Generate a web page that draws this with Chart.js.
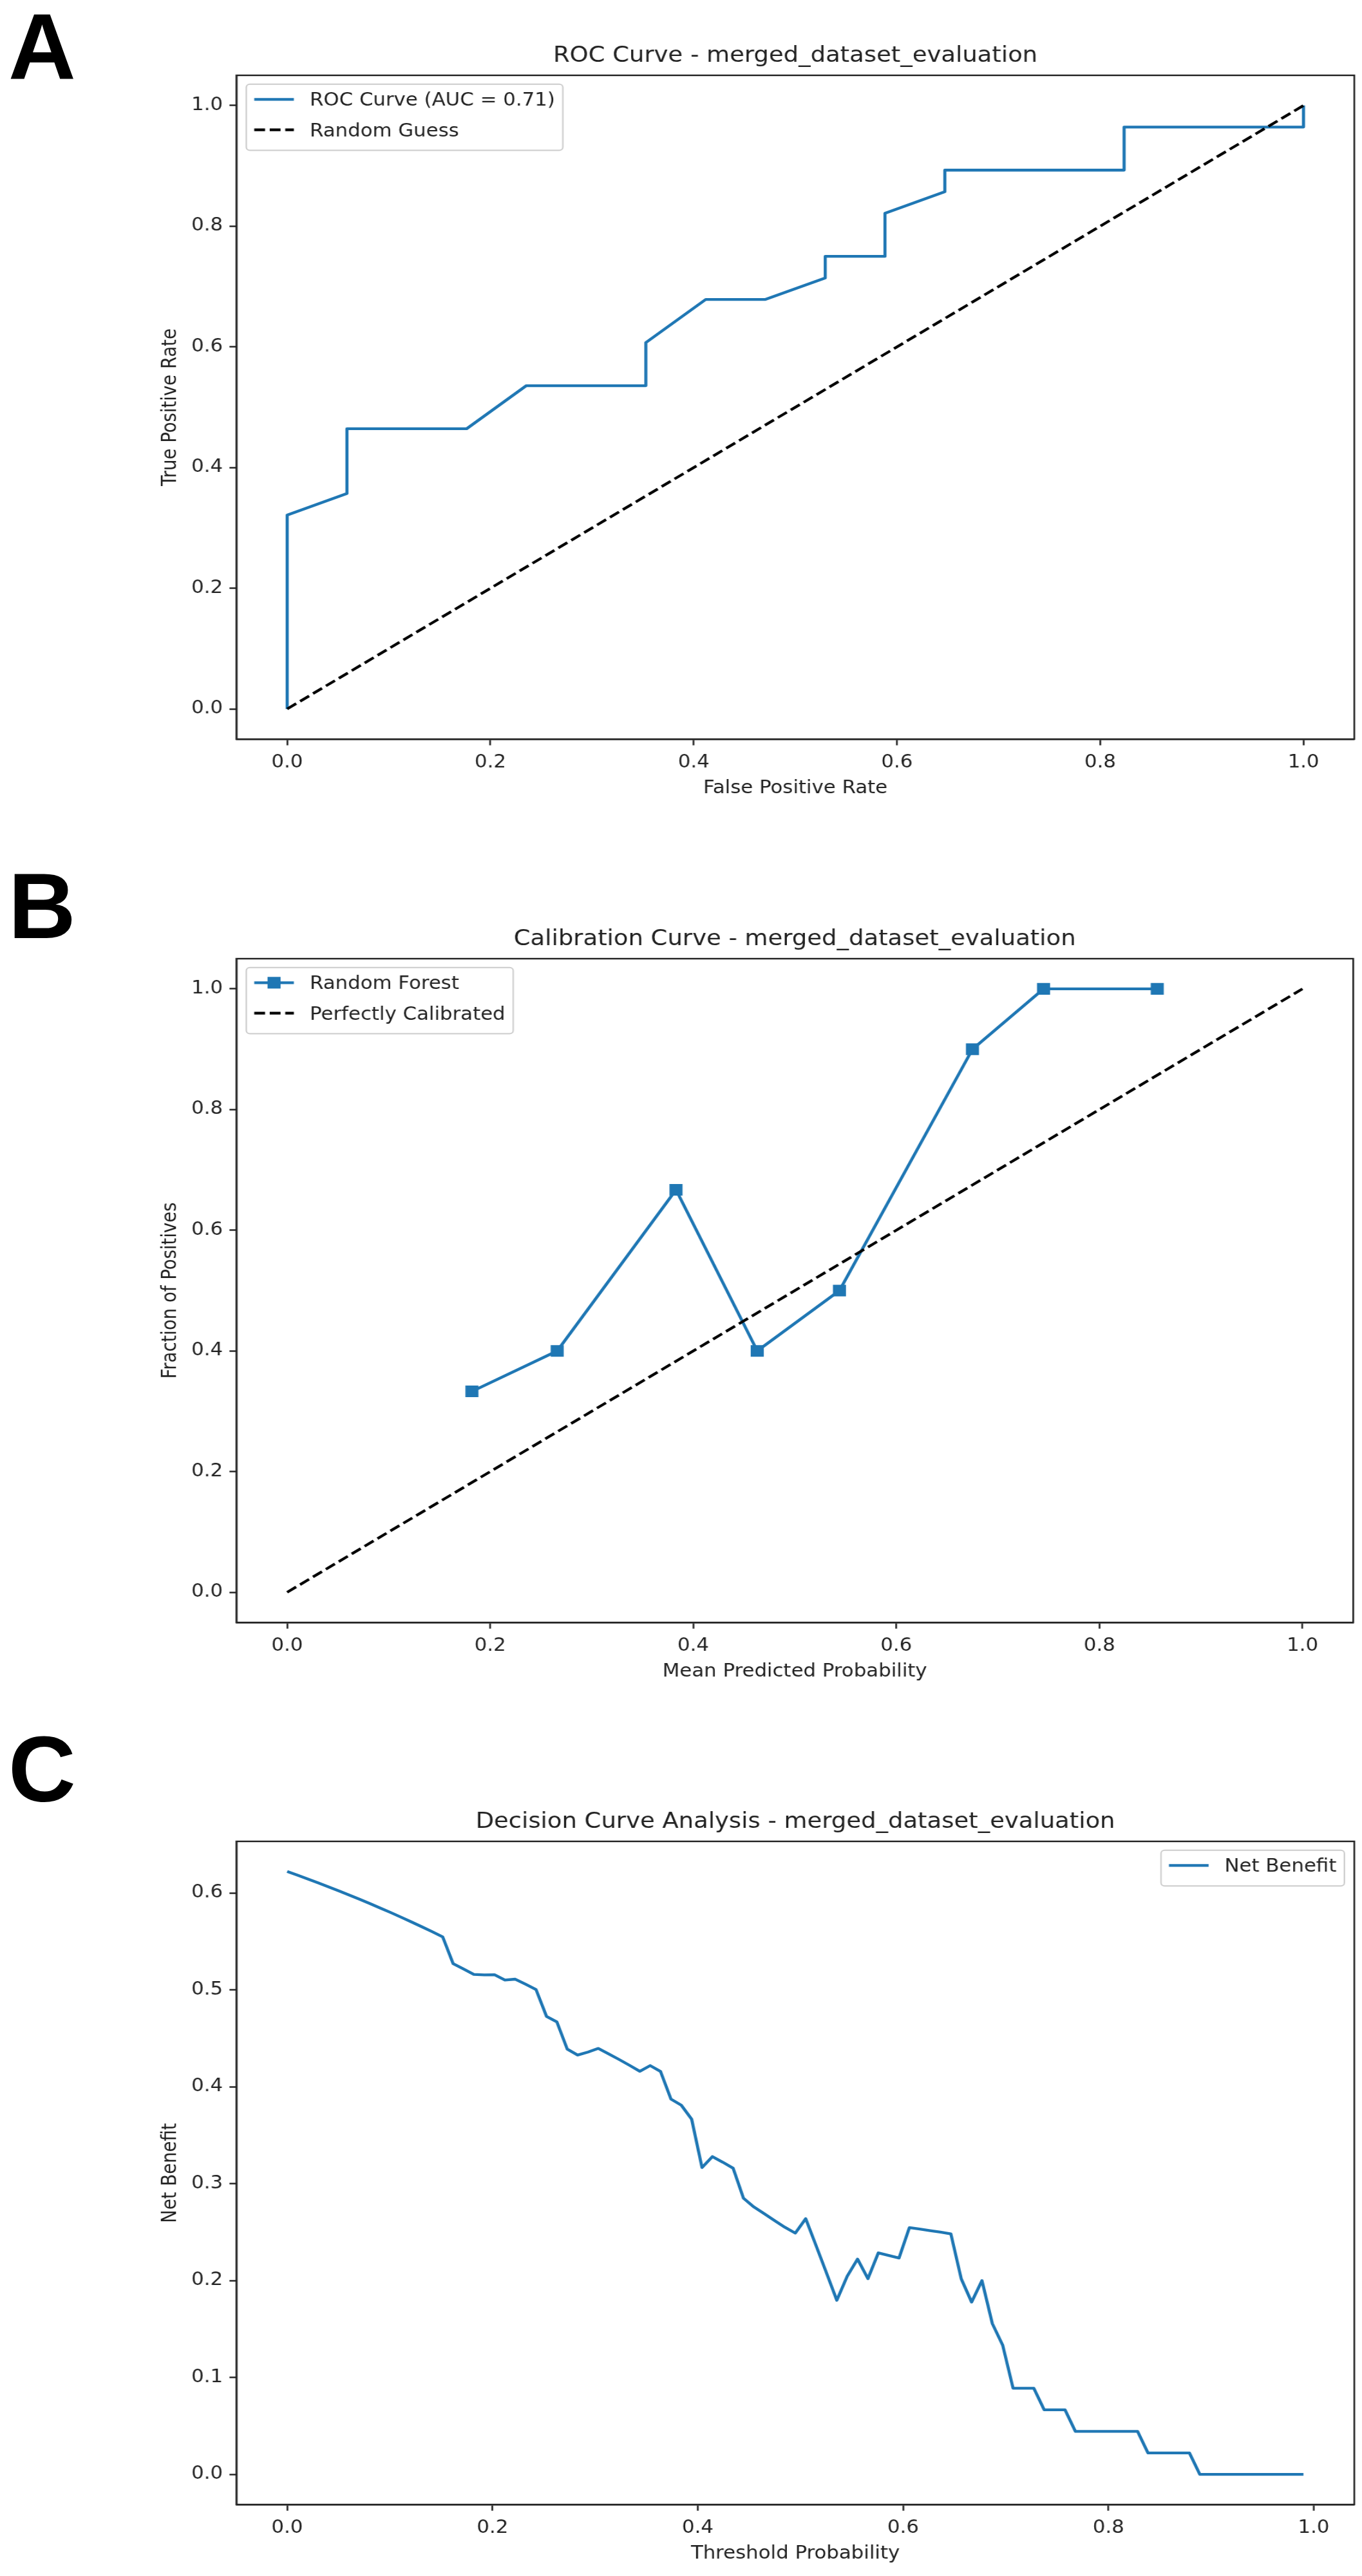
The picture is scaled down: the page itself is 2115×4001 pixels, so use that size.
<!DOCTYPE html>
<html lang="en">
<head>
<meta charset="UTF-8" />
<title>ROC / Calibration / Decision Curve - merged_dataset_evaluation</title>
<script src="https://cdn.jsdelivr.net/npm/chart.js"></script>
<style>
  html, body { margin: 0; padding: 0; background: #fff; }
  body { width: 2115px; height: 4001px; position: relative; overflow: hidden; }
  /* the source figure is stretched sideways, so each chart is drawn narrower and widened */
  .panel { position: absolute; left: 0; width: 1889px; transform: scaleX(1.12); transform-origin: 0 0; }
  .tag { position: absolute; left: 13px; font: bold 145px "Liberation Sans", Arial, sans-serif; line-height: 1; color: #000; }
</style>
</head>
<body>
<div class="panel" style="top:0px;height:1372px"><canvas id="rocChart"></canvas></div>
<div class="panel" style="top:1372px;height:1372px"><canvas id="calChart"></canvas></div>
<div class="panel" style="top:2743px;height:1258px"><canvas id="dcaChart"></canvas></div>
<div class="tag" style="top:0px">A</div>
<div class="tag" style="top:1335px">B</div>
<div class="tag" style="top:2676px">C</div>

<script>
// ---- data ----
const rocFpr = [0, 0, 0.0588, 0.0588, 0.1765, 0.2353, 0.3529, 0.3529, 0.4118, 0.4706,
                0.5294, 0.5294, 0.5882, 0.5882, 0.6471, 0.6471, 0.8235, 0.8235, 1.0, 1.0];
const rocTpr = [0, 0.3214, 0.3571, 0.4643, 0.4643, 0.5357, 0.5357, 0.6071, 0.6786, 0.6786,
                0.7143, 0.75, 0.75, 0.8214, 0.8571, 0.8929, 0.8929, 0.9643, 0.9643, 1.0];
const diagX = [0, 1];
const diagY = [0, 1];

const calPredicted = [0.182, 0.266, 0.383, 0.463, 0.544, 0.675, 0.745, 0.857];
const calObserved  = [0.333, 0.4, 0.667, 0.4, 0.5, 0.9, 1.0, 1.0];

const dcaThreshold = [
  0.0000, 0.0101, 0.0202, 0.0303, 0.0404, 0.0505, 0.0606, 0.0707, 0.0808, 0.0909,
  0.1010, 0.1111, 0.1212, 0.1313, 0.1414, 0.1515, 0.1616, 0.1717, 0.1818, 0.1919,
  0.2020, 0.2121, 0.2222, 0.2323, 0.2424, 0.2526, 0.2627, 0.2728, 0.2829, 0.2930,
  0.3031, 0.3132, 0.3233, 0.3334, 0.3435, 0.3536, 0.3637, 0.3738, 0.3839, 0.3940,
  0.4041, 0.4142, 0.4243, 0.4344, 0.4445, 0.4546, 0.4647, 0.4748, 0.4849, 0.4950,
  0.5051, 0.5152, 0.5253, 0.5354, 0.5455, 0.5556, 0.5657, 0.5758, 0.5859, 0.5960,
  0.6061, 0.6162, 0.6263, 0.6364, 0.6465, 0.6566, 0.6667, 0.6768, 0.6869, 0.6970,
  0.7071, 0.7172, 0.7273, 0.7374, 0.7476, 0.7577, 0.7678, 0.7779, 0.7880, 0.7981,
  0.8082, 0.8183, 0.8284, 0.8385, 0.8486, 0.8587, 0.8688, 0.8789, 0.8890, 0.8991,
  0.9092, 0.9193, 0.9294, 0.9395, 0.9496, 0.9597, 0.9698, 0.9799, 0.9900
];
const dcaNetBenefit = [
  0.6222, 0.6184, 0.6144, 0.6104, 0.6063, 0.6021, 0.5978, 0.5935, 0.5890, 0.5844,
  0.5798, 0.5750, 0.5701, 0.5651, 0.5600, 0.5547, 0.5272, 0.5217, 0.5160, 0.5155,
  0.5156, 0.5102, 0.5111, 0.5058, 0.5004, 0.4727, 0.4670, 0.4389, 0.4328, 0.4359,
  0.4396, 0.4340, 0.4282, 0.4222, 0.4160, 0.4219, 0.4158, 0.3874, 0.3810, 0.3666,
  0.3167, 0.3280, 0.3222, 0.3160, 0.2850, 0.2760, 0.2690, 0.2620, 0.2550, 0.2490,
  0.2639, 0.2361, 0.2080, 0.1797, 0.2044, 0.2222, 0.2020, 0.2286, 0.2260, 0.2233,
  0.2547, 0.2532, 0.2516, 0.2500, 0.2482, 0.2019, 0.1778, 0.2000, 0.1556, 0.1333,
  0.0889, 0.0889, 0.0889, 0.0667, 0.0667, 0.0667, 0.0444, 0.0444, 0.0444, 0.0444,
  0.0444, 0.0444, 0.0444, 0.0222, 0.0222, 0.0222, 0.0222, 0.0222, 0.0000, 0.0000,
  0.0000, 0.0000, 0.0000, 0.0000, 0.0000, 0.0000, 0.0000, 0.0000, 0.0000
];

const unitTicks = [0, 0.2, 0.4, 0.6, 0.8, 1.0];
const dcaYTicks = [0, 0.1, 0.2, 0.3, 0.4, 0.5, 0.6];

// ---- look ----
const BLUE = '#1f77b4';
const INK = '#222222';
const FS = 27.5;
Chart.defaults.font.family = '"DejaVu Sans", sans-serif';
Chart.defaults.font.size = FS;
Chart.defaults.color = INK;

const pts = (xs, ys) => xs.map((x, i) => ({ x: x, y: ys[i] }));

// matplotlib style box around the axes
const framePlugin = {
  id: 'frame',
  afterDatasetsDraw(chart) {
    const { ctx, chartArea: a } = chart;
    ctx.save();
    ctx.strokeStyle = INK;
    ctx.lineWidth = 2.4;
    ctx.strokeRect(a.left, a.top, a.right - a.left, a.bottom - a.top);
    ctx.restore();
  }
};

// legend drawn inside the plot, like plt.legend()
const boxLegend = {
  id: 'boxLegend',
  afterDraw(chart, args, opts) {
    const { ctx, chartArea: a } = chart;
    const sets = chart.data.datasets;
    const pad = 0.4 * FS, rowH = 1.22 * FS, sep = 0.5 * FS;
    const handle = 2 * FS, gap = 0.8 * FS, edge = 0.5 * FS;
    ctx.save();
    ctx.font = FS + 'px "DejaVu Sans"';
    const textW = Math.max(...sets.map(d => ctx.measureText(d.label).width));
    const w = pad + handle + gap + textW + pad;
    const h = 2 * pad + sets.length * rowH + (sets.length - 1) * sep;
    const x0 = opts.loc === 'upper right' ? a.right - edge - w : a.left + edge;
    const y0 = a.top + edge;

    ctx.beginPath();
    ctx.roundRect(x0, y0, w, h, 5);
    ctx.fillStyle = 'rgba(255,255,255,0.8)';
    ctx.fill();
    ctx.strokeStyle = '#cccccc';
    ctx.lineWidth = 2;
    ctx.stroke();

    sets.forEach((d, i) => {
      const cy = y0 + pad + i * (rowH + sep) + 15.6;
      const hx = x0 + pad;
      ctx.beginPath();
      ctx.setLineDash(d.borderDash || []);
      ctx.strokeStyle = d.borderColor;
      ctx.lineWidth = d.borderWidth;
      ctx.moveTo(hx, cy - 3);
      ctx.lineTo(hx + handle, cy - 3);
      ctx.stroke();
      ctx.setLineDash([]);
      if (d.pointRadius > 0) {
        const s = d.pointRadius * Math.SQRT2;
        ctx.fillStyle = d.borderColor;
        ctx.fillRect(hx + handle / 2 - s / 2, cy - 3 - s / 2, s, s);
      }
      ctx.fillStyle = INK;
      ctx.textAlign = 'left';
      ctx.textBaseline = 'middle';
      ctx.fillText(d.label, hx + handle + gap, cy);
    });
    ctx.restore();
  }
};

function axis(label, min, max, ticks, horizontal) {
  return {
    type: 'linear',
    min: min,
    max: max,
    afterBuildTicks: s => { s.ticks = ticks.map(v => ({ value: v })); },
    afterFit: s => {
      if (horizontal) { s.height = 105; s.paddingLeft = 0; s.paddingRight = 0; }
      else { s.width = 327.7; s.paddingTop = 0; s.paddingBottom = 0; }
    },
    ticks: { color: INK, padding: horizontal ? 11 : 9, autoSkip: false, maxRotation: 0,
             callback: v => v.toFixed(1) },
    grid: { drawOnChartArea: false, drawTicks: true, tickLength: 9.6, tickWidth: 2.4, tickColor: INK },
    border: { display: true, color: INK, width: 2.4 },
    title: { display: true, text: label, color: INK,
             padding: horizontal ? { top: 0, bottom: 11.5 } : { top: 220.5, bottom: 0 } }
  };
}

function options(p) {
  return {
    responsive: true,
    maintainAspectRatio: false,
    animation: false,
    events: [],
    layout: { padding: { left: 0, top: 0, right: 11.3, bottom: p.padBottom } },
    plugins: {
      legend: { display: false },
      tooltip: { enabled: false },
      title: { display: true, text: p.title, fullSize: false, color: INK,
               font: { size: 33, weight: 'normal' }, padding: { top: 67.2, bottom: 10.2 } },
      boxLegend: { loc: p.loc }
    },
    scales: {
      x: axis(p.xLabel, p.xRange[0], p.xRange[1], p.xTicks, true),
      y: axis(p.yLabel, p.yRange[0], p.yRange[1], p.yTicks, false)
    }
  };
}

const lineStyle = { showLine: true, borderWidth: 4.3, borderJoinStyle: 'round', pointRadius: 0, tension: 0 };
const dashStyle = { showLine: true, borderWidth: 4.1, borderColor: '#000', borderDash: [15, 6.5], pointRadius: 0, order: 0 };

// A: ROC
new Chart(document.getElementById('rocChart'), {
  type: 'scatter',
  data: {
    datasets: [
      Object.assign({ label: 'ROC Curve (AUC = 0.71)', data: pts(rocFpr, rocTpr), borderColor: BLUE, order: 1 }, lineStyle),
      Object.assign({ label: 'Random Guess', data: pts(diagX, diagY) }, dashStyle)
    ]
  },
  options: options({
    title: 'ROC Curve - merged_dataset_evaluation', loc: 'upper left', padBottom: 119,
    xLabel: 'False Positive Rate', yLabel: 'True Positive Rate',
    xRange: [-0.05, 1.05], yRange: [-0.05, 1.05], xTicks: unitTicks, yTicks: unitTicks
  }),
  plugins: [framePlugin, boxLegend]
});

// B: calibration
new Chart(document.getElementById('calChart'), {
  type: 'scatter',
  data: {
    datasets: [
      Object.assign({}, lineStyle, {
        label: 'Random Forest', data: pts(calPredicted, calObserved), borderColor: BLUE, order: 1,
        pointStyle: 'rect', pointRadius: 12.8, pointBackgroundColor: BLUE, pointBorderWidth: 0
      }),
      Object.assign({ label: 'Perfectly Calibrated', data: pts(diagX, diagY) }, dashStyle)
    ]
  },
  options: options({
    title: 'Calibration Curve - merged_dataset_evaluation', loc: 'upper left', padBottom: 119,
    xLabel: 'Mean Predicted Probability', yLabel: 'Fraction of Positives',
    xRange: [-0.05, 1.05], yRange: [-0.05, 1.05], xTicks: unitTicks, yTicks: unitTicks
  }),
  plugins: [framePlugin, boxLegend]
});

// C: decision curve
new Chart(document.getElementById('dcaChart'), {
  type: 'scatter',
  data: {
    datasets: [
      Object.assign({ label: 'Net Benefit', data: pts(dcaThreshold, dcaNetBenefit), borderColor: BLUE }, lineStyle)
    ]
  },
  options: options({
    title: 'Decision Curve Analysis - merged_dataset_evaluation', loc: 'upper right', padBottom: 6,
    xLabel: 'Threshold Probability', yLabel: 'Net Benefit',
    xRange: [-0.0495, 1.0395], yRange: [-0.0311, 0.6533], xTicks: unitTicks, yTicks: dcaYTicks
  }),
  plugins: [framePlugin, boxLegend]
});
</script>
</body>
</html>
